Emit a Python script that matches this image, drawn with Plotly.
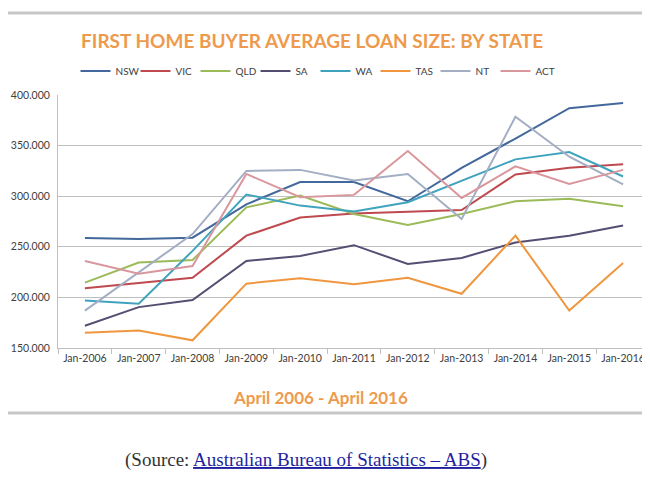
import plotly.graph_objects as go

# Kategorien (x-Achse)
years = ['Jan-2006', 'Jan-2007', 'Jan-2008', 'Jan-2009', 'Jan-2010', 'Jan-2011',
         'Jan-2012', 'Jan-2013', 'Jan-2014', 'Jan-2015', 'Jan-2016']

# Durchschnittliche Kredithoehe je Bundesstaat
nsw = [258600, 257600, 259000, 292000, 314000, 314000, 295000, 328000, 357000, 387000, 392000]
vic = [209000, 214600, 219500, 261000, 279000, 283000, 285000, 286400, 321500, 328000, 331500]
qld = [214600, 234400, 237000, 289000, 300700, 282500, 271500, 282500, 295000, 297400, 290000]
sa = [172000, 190400, 197400, 236000, 241000, 251600, 233000, 239000, 254300, 261000, 271000]
wa = [197000, 193700, 246000, 301700, 290700, 285000, 294000, 315600, 336400, 343700, 319500]
tas = [165000, 167200, 157600, 213600, 219000, 213000, 219500, 203600, 261000, 187000, 234000]
nt = [187000, 224500, 262600, 325000, 326000, 315600, 322000, 277500, 378500, 339000, 311600]
act = [236000, 223500, 231000, 322000, 299000, 301300, 344700, 298300, 329500, 312000, 326000]

states = ['NSW', 'VIC', 'QLD', 'SA', 'WA', 'TAS', 'NT', 'ACT']
series = [nsw, vic, qld, sa, wa, tas, nt, act]
colors = ['#43689C', '#BE4A4F', '#9BBB59', '#554E73', '#40A3BE', '#F0963F', '#A3AEC3', '#D9979D']

fig = go.Figure()
for name, vals, col in zip(states, series, colors):
    fig.add_trace(go.Scatter(x=years, y=vals, name=name, mode='lines',
                             line=dict(color=col, width=2)))

font = 'Lato, Open Sans, sans-serif'

# Seite hat 8px Rand im Browser -> Raender entsprechend kleiner
fig.update_layout(
    width=650, height=489,
    margin=dict(l=50, r=8, t=87, b=149, autoexpand=False),
    paper_bgcolor='white', plot_bgcolor='white',
    separators=',.',
    font=dict(family=font, size=11, color='#404040'),
    showlegend=True,
    legend=dict(orientation='h', x=0.435, xanchor='center', y=1.095, yanchor='middle',
                font=dict(size=10, color='#404040'), itemwidth=30,
                entrywidth=15, entrywidthmode='pixels', tracegroupgap=0),
)

fig.update_xaxes(type='category', showgrid=False, showline=True, linecolor='#BFBFBF',
                 ticks='outside', tickcolor='#BFBFBF', ticklen=5, tickson='boundaries',
                 tickangle=0, tickfont=dict(size=10.5, color='#404040'), range=[-0.5, 10.5])
fig.update_yaxes(range=[150000, 400000], dtick=50000, tickformat=',.0f',
                 showgrid=True, gridcolor='#BFBFBF', gridwidth=1,
                 showline=True, linecolor='#BFBFBF', zeroline=False,
                 tickfont=dict(size=10.5, color='#404040'), ticklen=5, ticks='outside', tickcolor='white')

# Titel und Untertitel
fig.add_annotation(text='<b>FIRST HOME BUYER AVERAGE LOAN SIZE: BY STATE</b>',
                   xref='paper', yref='paper', x=0.429, y=1.217, xanchor='center', yanchor='middle',
                   showarrow=False, font=dict(family=font, size=19, color='#EE9A4D'))
fig.add_annotation(text='<b>April 2006 - April 2016</b>',
                   xref='paper', yref='paper', x=0.443, y=-0.194, xanchor='center', yanchor='middle',
                   showarrow=False, font=dict(family=font, size=17, color='#EE9A4D'))
fig.add_annotation(text='(Source: <a href="https://www.abs.gov.au" style="color:#1F1FA0">'
                        '<u>Australian Bureau of Statistics – ABS</u></a>)',
                   xref='paper', yref='paper', x=0.419, y=-0.443, xanchor='center', yanchor='middle',
                   showarrow=False,
                   font=dict(family='Liberation Serif, DejaVu Serif, serif', size=19, color='#333333'))

# Rahmenlinien des Screenshots
fig.add_shape(type='line', xref='paper', yref='paper', x0=-0.11, x1=1.02, y0=1.324, y1=1.324,
              line=dict(color='#C8C8C8', width=3))
fig.add_shape(type='line', xref='paper', yref='paper', x0=-0.11, x1=1.02, y0=-0.257, y1=-0.257,
              line=dict(color='#C8C8C8', width=3))

fig.write_html('out.html')
